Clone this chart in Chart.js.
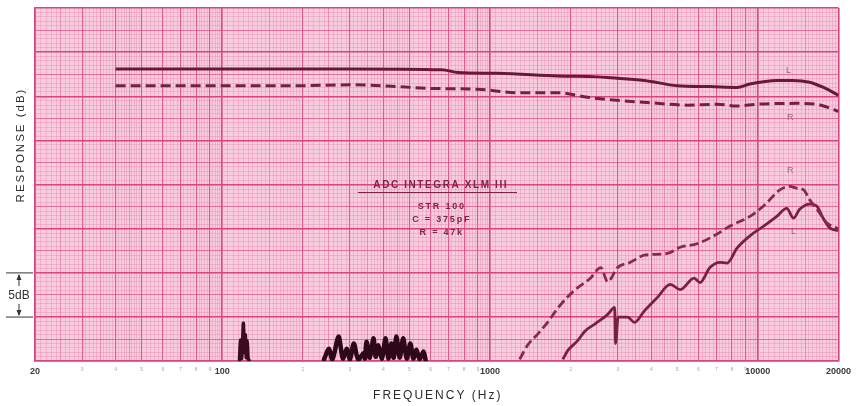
<!DOCTYPE html>
<html>
<head>
<meta charset="utf-8">
<script src="https://cdn.jsdelivr.net/npm/chart.js@4.4.1/dist/chart.umd.min.js"></script>
<style>
  html, body { margin: 0; padding: 0; background: #fff; }
  #wrap { width: 856px; height: 406px; }
</style>
</head>
<body>
<div id="wrap"><canvas id="chart" width="856" height="406"></canvas></div>
<script>
// Frequency response + crosstalk (dB above paper bottom)

// upper traces: channel output
const leftFreq = [40, 100, 300, 660, 760, 1070, 1790, 2520, 2820, 3770, 5000, 6620, 8360, 9340, 11770, 13500, 15600, 17600, 20000];
const leftDb   = [33.1, 33.1, 33.1, 33.0, 32.7, 32.6, 32.3, 32.2, 32.1, 31.8, 31.2, 31.1, 31.0, 31.4, 31.8, 31.8, 31.6, 31.0, 30.1];

const rightFreq = [40, 100, 190, 300, 450, 590, 900, 1270, 1790, 2310, 2820, 3860, 5440, 7030, 8360, 9900, 13960, 16560, 18040, 20000];
const rightDb   = [31.2, 31.2, 31.2, 31.3, 31.1, 30.9, 30.8, 30.4, 30.4, 29.9, 29.6, 29.3, 29.0, 29.1, 28.9, 29.1, 29.2, 29.1, 28.8, 28.3];

// lower traces: crosstalk
const rightXtFreq = [1290, 1380, 1510, 1640, 1790, 1950, 2120, 2370, 2590, 2750, 2990, 3340, 3770, 4590, 5130, 5930, 6860, 7870, 9340, 10520, 12080, 13160, 13960, 14820, 15600, 17000, 18040, 20000];
const rightXtDb   = [0.2, 1.8, 3.1, 4.4, 6.0, 7.3, 8.3, 9.4, 10.6, 9.0, 10.6, 11.2, 12.0, 12.2, 12.9, 13.3, 14.2, 15.3, 16.4, 17.6, 19.4, 19.8, 19.6, 19.4, 18.3, 16.8, 15.7, 15.0];

const leftXtFreq = [1870, 1950, 2120, 2260, 2460, 2750, 2920, 2940, 3010, 3260, 3460, 3770, 4210, 4710, 5130, 5780, 6080, 6620, 7220, 7670, 8360, 9340, 10520, 11770, 12820, 13600, 14320, 15600, 16560, 17600, 18530, 20000];
const leftXtDb   = [0.2, 1.2, 2.3, 3.4, 4.2, 5.3, 6.1, 2.0, 5.0, 5.0, 4.4, 5.7, 7.2, 8.7, 8.1, 9.4, 8.9, 10.6, 11.2, 11.1, 12.8, 14.2, 15.3, 16.4, 17.3, 16.2, 17.2, 17.8, 17.6, 16.1, 15.1, 14.8];

// hum / noise bursts near the bottom
const humFreq = [116, 117, 118, 119, 120, 121, 122, 123, 124, 125, 126];
const humDb   = [0.1, 2.4, 0.3, 1.6, 4.3, 1.0, 3.0, 0.4, 2.3, 0.3, 0.1];

const noiseFreq = [240, 250, 258, 272, 282, 292, 300, 310, 322, 337, 341, 346, 356, 367, 374, 383, 395, 407, 417, 428, 437, 447, 460, 474, 488, 504, 517, 531, 546, 564, 575];
const noiseDb   = [0.2, 1.4, 0.2, 2.8, 0.3, 1.4, 0.2, 2.0, 0.2, 0.9, 0.3, 2.2, 0.4, 2.6, 0.5, 1.8, 0.3, 2.6, 0.3, 2.0, 0.4, 2.8, 0.4, 2.6, 0.3, 2.0, 0.3, 1.3, 0.2, 1.1, 0.1];

const xLabels = [20, 100, 1000, 10000, 20000];
const yMin = 0, yMax = 40;
const scaleBarDb = [5, 10];

function pts(fs, ds) { return fs.map((f, i) => ({ x: f, y: ds[i] })); }

function mantissa(v) {
    const d = Math.pow(10, Math.floor(Math.log10(v) + 1e-9));
    return Math.round(v / d * 100) / 100;
}

// recorder paper: fine lines 0.05 (1-2), 0.1 (2-5), 0.2 (5-10) of a decade
function paperTicksX() {
    const out = [];
    [10, 100, 1000, 10000].forEach(d => {
        for (let k = 20; k <= 200; k++) {
            if (k >= 40 && k < 100 && k % 2) continue;
            if (k >= 100 && k % 4) continue;
            const v = k * d / 20;
            if (v >= 20 && v <= 20000 && !out.includes(v)) out.push(v);
        }
    });
    return out.sort((a, b) => a - b).map(v => ({ value: v }));
}

function xGridColor(ctx) {
    if (!ctx.tick) return 'rgba(0,0,0,0)';
    const v = ctx.tick.value, m = mantissa(v);
    if (m === 1 || v === 20 || v === 20000) return '#d8457e';
    if (Number.isInteger(m)) return 'rgba(218,70,125,0.85)';
    if ([1.5, 2.5, 3.5, 4.5].includes(m)) return 'rgba(225,90,140,0.6)';
    return 'rgba(232,110,155,0.42)';
}
function xGridWidth(ctx) {
    if (!ctx.tick) return 0;
    const v = ctx.tick.value, m = mantissa(v);
    if (m === 1 || v === 20 || v === 20000) return 1.6;
    if (Number.isInteger(m)) return 1.1;
    if ([1.5, 2.5, 3.5, 4.5].includes(m)) return 0.9;
    return 0.7;
}
function yGridColor(ctx) {
    if (!ctx.tick) return 'rgba(0,0,0,0)';
    const v = ctx.tick.value;
    if (v % 5 === 0) return '#d8457e';
    if (v % 2.5 === 0) return 'rgba(222,80,132,0.75)';
    return 'rgba(232,110,155,0.42)';
}
function yGridWidth(ctx) {
    if (!ctx.tick) return 0;
    const v = ctx.tick.value;
    if (v % 5 === 0) return 1.5;
    if (v % 2.5 === 0) return 1.0;
    return 0.7;
}

const paperPlugin = {
    id: 'paper',
    beforeDraw(chart) {
        const { ctx, chartArea: a } = chart;
        ctx.save();
        ctx.fillStyle = '#ffffff';
        ctx.fillRect(0, 0, chart.width, chart.height);
        ctx.fillStyle = '#f7cddd';
        ctx.fillRect(a.left, a.top, a.right - a.left, a.bottom - a.top);
        ctx.restore();
    }
};

const textPlugin = {
    id: 'paperText',
    afterDraw(chart) {
        const { ctx, chartArea: a } = chart;
        const xs = chart.scales.x, ys = chart.scales.y;
        ctx.save();

        // axis titles
        ctx.fillStyle = '#2b2b2b';
        ctx.textAlign = 'center';
        ctx.textBaseline = 'middle';
        ctx.font = '12px "Liberation Sans", Arial, sans-serif';
        ctx.letterSpacing = '2px';
        ctx.fillText('FREQUENCY (Hz)', (a.left + a.right) / 2 + 1, 396);

        ctx.save();
        ctx.translate(21, 145);
        ctx.rotate(-Math.PI / 2);
        ctx.font = '11.5px "Liberation Sans", Arial, sans-serif';
        ctx.letterSpacing = '2px';
        ctx.fillText('RESPONSE (dB)', 0, 0);
        ctx.restore();

        // 5 dB scale bar
        const yTop = ys.getPixelForValue(scaleBarDb[1]);
        const yBot = ys.getPixelForValue(scaleBarDb[0]);
        const yMid = (yTop + yBot) / 2;
        const bx = 19;
        ctx.strokeStyle = '#333';
        ctx.fillStyle = '#333';
        ctx.lineWidth = 1;
        ctx.beginPath();
        ctx.moveTo(6, yTop); ctx.lineTo(33, yTop);
        ctx.moveTo(6, yBot); ctx.lineTo(33, yBot);
        ctx.moveTo(bx, yTop + 2); ctx.lineTo(bx, yMid - 9);
        ctx.moveTo(bx, yMid + 9); ctx.lineTo(bx, yBot - 2);
        ctx.stroke();
        ctx.beginPath();
        ctx.moveTo(bx, yTop + 1); ctx.lineTo(bx - 2.5, yTop + 7); ctx.lineTo(bx + 2.5, yTop + 7); ctx.closePath();
        ctx.moveTo(bx, yBot - 1); ctx.lineTo(bx - 2.5, yBot - 7); ctx.lineTo(bx + 2.5, yBot - 7); ctx.closePath();
        ctx.fill();
        ctx.font = '12px "Liberation Sans", Arial, sans-serif';
        ctx.letterSpacing = '0px';
        ctx.fillText('5dB', bx, yMid + 1);

        // setup note
        const cx = (a.left + a.right) / 2 + 3;
        ctx.fillStyle = '#7a2546';
        ctx.strokeStyle = '#7a2546';
        ctx.font = 'bold 10px "Liberation Sans", Arial, sans-serif';
        ctx.letterSpacing = '1.6px';
        ctx.fillText('ADC INTEGRA XLM III', cx + 1, 185);
        ctx.lineWidth = 1.2;
        ctx.beginPath();
        ctx.moveTo(358, 192.5); ctx.lineTo(517, 192.5);
        ctx.stroke();
        ctx.font = 'bold 9px "Liberation Sans", Arial, sans-serif';
        ctx.letterSpacing = '1.8px';
        ctx.fillText('STR 100', cx + 2, 207);
        ctx.fillText('C = 375pF', cx + 2, 220);
        ctx.fillText('R = 47k', cx + 2, 233);

        // channel marks beside the traces
        ctx.fillStyle = 'rgba(110,80,95,0.75)';
        ctx.font = '9px "Liberation Sans", Arial, sans-serif';
        ctx.letterSpacing = '0px';
        ctx.fillText('L', xs.getPixelForValue(13000), ys.getPixelForValue(32.9));
        ctx.fillText('R', xs.getPixelForValue(13200), ys.getPixelForValue(27.6));
        ctx.fillText('R', xs.getPixelForValue(13200), ys.getPixelForValue(21.6));
        ctx.fillText('L', xs.getPixelForValue(13600), ys.getPixelForValue(14.7));
        ctx.restore();
    }
};

const trace = (label, data, color, width, dash) => ({
    label, data,
    borderColor: color,
    borderWidth: width,
    borderDash: dash || [],
    borderJoinStyle: 'round',
    pointRadius: 0,
    fill: false,
    cubicInterpolationMode: 'monotone'
});

const burst = (label, data, color, width) => ({
    label, data,
    borderColor: color,
    borderWidth: width,
    borderJoinStyle: 'round',
    borderCapStyle: 'round',
    pointRadius: 0,
    tension: 0.3
});

new Chart(document.getElementById('chart'), {
    type: 'line',
    data: {
        datasets: [
            trace('L', pts(leftFreq, leftDb), '#6a1838', 3),
            trace('R', pts(rightFreq, rightDb), '#74203f', 3, [10, 5]),
            trace('R crosstalk', pts(rightXtFreq, rightXtDb), '#862a4b', 2.8, [9, 4]),
            trace('L crosstalk', pts(leftXtFreq, leftXtDb), '#77203f', 2.8),
            burst('hum', pts(humFreq, humDb), '#3a0c1e', 3.5),
            burst('noise', pts(noiseFreq, noiseDb), '#2e0816', 4.5)
        ]
    },
    options: {
        responsive: false,
        animation: false,
        layout: { padding: { left: 35, right: 16, top: 8, bottom: 24 } },
        plugins: { legend: { display: false }, tooltip: { enabled: false } },
        scales: {
            x: {
                type: 'logarithmic',
                min: 20,
                max: 20000,
                afterBuildTicks: s => { s.ticks = paperTicksX(); },
                grid: { color: xGridColor, lineWidth: xGridWidth, drawTicks: false },
                border: { display: true, color: '#d8457e', width: 1.6 },
                ticks: {
                    autoSkip: false,
                    maxRotation: 0,
                    padding: 5,
                    callback: v => {
                        if (xLabels.includes(v)) return String(v);
                        const m = mantissa(v);
                        return Number.isInteger(m) && m > 1 ? String(m) : '';
                    },
                    color: ctx => ctx.tick && xLabels.includes(ctx.tick.value) ? '#3a3a3a' : 'rgba(90,90,90,0.55)',
                    font: ctx => ctx.tick && xLabels.includes(ctx.tick.value)
                        ? { family: '"Liberation Sans", Arial, sans-serif', size: 9, weight: 'bold' }
                        : { family: '"Liberation Sans", Arial, sans-serif', size: 5 }
                }
            },
            y: {
                type: 'linear',
                min: yMin,
                max: yMax,
                afterBuildTicks: s => {
                    const t = [];
                    for (let i = yMin * 2; i <= yMax * 2; i++) t.push({ value: i / 2 });
                    s.ticks = t;
                },
                grid: { color: yGridColor, lineWidth: yGridWidth, drawTicks: false },
                border: { display: true, color: '#d8457e', width: 1.6 },
                ticks: { display: false }
            }
        }
    },
    plugins: [paperPlugin, textPlugin]
});
</script>
</body>
</html>
